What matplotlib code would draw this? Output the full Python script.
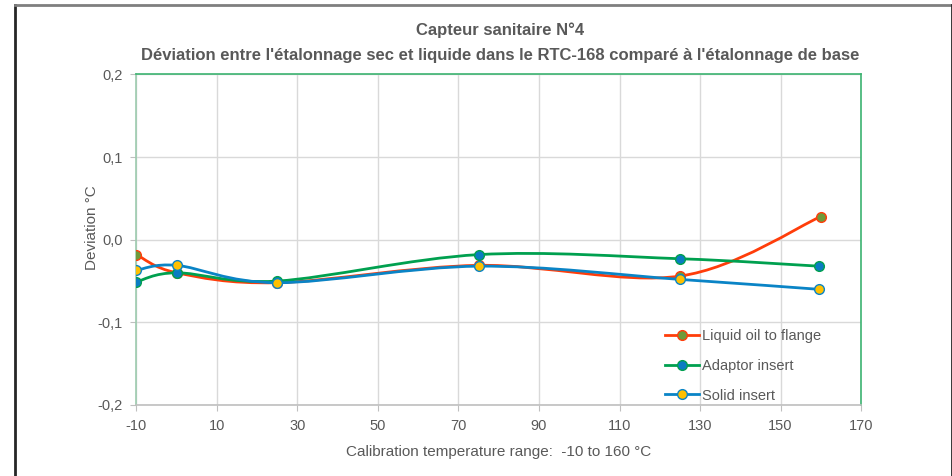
import matplotlib.pyplot as plt
from matplotlib.path import Path
from matplotlib.patches import PathPatch
from matplotlib.lines import Line2D

plt.rcParams['font.family'] = ['Liberation Sans', 'DejaVu Sans']
plt.rcParams['axes.unicode_minus'] = False

# data
liquid_x = [-10, 0, 25, 75, 125, 160]
liquid_y = [-0.018, -0.040, -0.052, -0.031, -0.044, 0.028]
adaptor_x = [-10, 0, 25, 75, 125, 159.5]
adaptor_y = [-0.051, -0.040, -0.050, -0.018, -0.023, -0.032]
solid_x = [-10, 0, 25, 75, 125, 159.5]
solid_y = [-0.037, -0.031, -0.052, -0.032, -0.048, -0.060]

labels = ['Liquid oil to flange', 'Adaptor insert', 'Solid insert']
line_colors = ['#FF3D0A', '#00A04F', '#0A84C6']
face_colors = ['#6E9A3A', '#0A7CC2', '#FFC000']
x_ticks = list(range(-10, 171, 20))
y_ticks = [-0.2, -0.1, 0.0, 0.1, 0.2]

TXT = '#595959'


def smooth_path(xs, ys):
    # excel-like smoothed line: cubic bezier through the points
    pts = list(zip(xs, ys))
    verts = [pts[0]]
    codes = [Path.MOVETO]
    n = len(pts)
    for i in range(n - 1):
        p0 = pts[i - 1] if i > 0 else pts[i]
        p1 = pts[i]
        p2 = pts[i + 1]
        p3 = pts[i + 2] if i + 2 < n else pts[i + 1]
        c1 = (p1[0] + (p2[0] - p0[0]) / 6, p1[1] + (p2[1] - p0[1]) / 6)
        c2 = (p2[0] - (p3[0] - p1[0]) / 6, p2[1] - (p3[1] - p1[1]) / 6)
        verts += [c1, c2, p2]
        codes += [Path.CURVE4] * 3
    return Path(verts, codes)


fig = plt.figure(figsize=(9.53, 4.76), dpi=100)
ax = fig.add_axes([0.1432, 0.1492, 0.9035 - 0.1432, 0.8435 - 0.1492])

series = [(liquid_x, liquid_y), (adaptor_x, adaptor_y), (solid_x, solid_y)]
handles = []
for i, (xs, ys) in enumerate(series):
    ax.add_patch(PathPatch(smooth_path(xs, ys), fill=False, edgecolor=line_colors[i],
                           lw=2.0, zorder=3 + i, capstyle='round'))
    ax.plot(xs, ys, ls='none', marker='o', ms=7, mfc=face_colors[i],
            mec=line_colors[i], mew=1.0, zorder=3 + i)
    handles.append(Line2D([], [], color=line_colors[i], lw=2.0, marker='o', ms=7,
                          mfc=face_colors[i], mec=line_colors[i], mew=1.0))

ax.set_xlim(-10, 170)
ax.set_ylim(-0.2, 0.2)
ax.set_xticks(x_ticks)
ax.set_yticks(y_ticks)
ax.set_yticklabels([f'{v:.1f}'.replace('.', ',') for v in y_ticks])
ax.grid(True, color='#D9D9D9', lw=1.0)
ax.set_axisbelow(True)

for side in ['top', 'left', 'right']:
    ax.spines[side].set_color('#3CB371')
    ax.spines[side].set_linewidth(1.2)
ax.spines['left'].set_color('#9CCBAE')
ax.spines['bottom'].set_color('#BFBFBF')
ax.spines['bottom'].set_linewidth(1.2)
ax.tick_params(colors='#BFBFBF', labelcolor=TXT, labelsize=10.5, length=4, pad=6)

ax.set_ylabel('Deviation °C', color=TXT, fontsize=11)
ax.yaxis.set_label_coords(-0.0518, 0.536)
ax.set_xlabel('Calibration temperature range:  -10 to 160 °C', color=TXT, fontsize=11,
              labelpad=9)

fig.text(0.5245, 0.936, 'Capteur sanitaire N°4', ha='center', va='center',
         color=TXT, fontsize=12, fontweight='bold')
fig.text(0.5245, 0.884, "Déviation entre l'étalonnage sec et liquide dans le RTC-168 comparé à l'étalonnage de base",
         ha='center', va='center', color=TXT, fontsize=12, fontweight='bold')

leg = ax.legend(handles, labels, loc='center left', bbox_to_anchor=(0.712, 0.118),
                frameon=False, fontsize=10.5, labelcolor=TXT, handlelength=2.33,
                handletextpad=0.2, labelspacing=1.07)

# outer frame of the figure
fig.add_artist(Line2D([0.0157, 0.0157], [0, 0.9895], color='#262626', lw=2.0))
fig.add_artist(Line2D([0.0157, 1.0], [0.9895, 0.9895], color='#7F7F7F', lw=2.0))
fig.add_artist(Line2D([0.999, 0.999], [0, 0.9895], color='#262626', lw=2.0))

fig.savefig('out.png', dpi=100)
